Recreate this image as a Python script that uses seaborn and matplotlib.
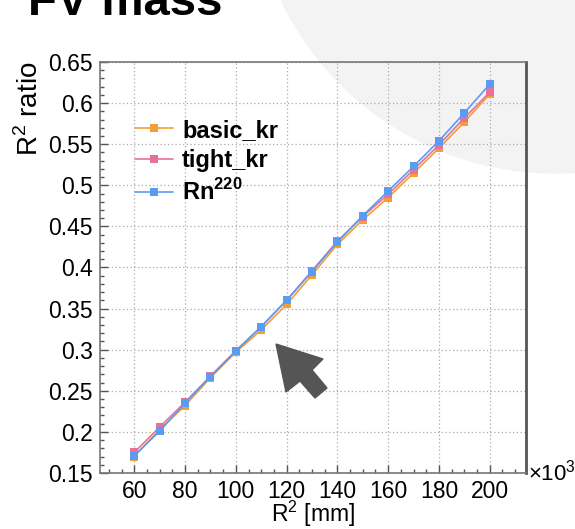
import matplotlib
matplotlib.use("Agg")
import matplotlib.pyplot as plt
import matplotlib.patches as mpatches
from matplotlib.ticker import MultipleLocator
import seaborn as sns
import pandas as pd

# data
r2_mm = [60, 70, 80, 90, 100, 110, 120, 130, 140, 150, 160, 170, 180, 190, 200]
basic_kr = [0.170, 0.203, 0.232, 0.266, 0.297, 0.324, 0.355, 0.391, 0.428, 0.458,
            0.485, 0.515, 0.545, 0.577, 0.611]
tight_kr = [0.175, 0.206, 0.236, 0.268, 0.299, 0.328, 0.360, 0.396, 0.432, 0.462,
            0.489, 0.519, 0.549, 0.582, 0.613]
rn220 = [0.171, 0.201, 0.235, 0.267, 0.298, 0.328, 0.360, 0.395, 0.431, 0.463,
         0.493, 0.523, 0.554, 0.588, 0.623]
series_names = ["basic_kr", "tight_kr", r"$\mathbf{Rn}^{\mathbf{220}}$"]
series_colors = ["#f0a035", "#e8719b", "#5b9cf2"]

df = pd.DataFrame({
    "x": r2_mm * 3,
    "y": basic_kr + tight_kr + rn220,
    "series": [series_names[0]] * 15 + [series_names[1]] * 15 + [series_names[2]] * 15,
})

sns.set_style("white")
plt.rcParams["font.family"] = ["Liberation Sans", "DejaVu Sans"]
plt.rcParams["mathtext.fontset"] = "custom"
plt.rcParams["mathtext.rm"] = "Liberation Sans"
plt.rcParams["mathtext.bf"] = "Liberation Sans:bold"
plt.rcParams["text.color"] = "black"
plt.rcParams["axes.labelcolor"] = "black"
plt.rcParams["xtick.color"] = "black"
plt.rcParams["ytick.color"] = "black"

W, H = 575, 529
fig = plt.figure(figsize=(W / 100, H / 100), dpi=100, facecolor="white")

def px(x, y):
    return (x / W, 1 - y / H)

# background decoration (slide)
fig.patches.append(mpatches.Ellipse(px(555, -130), 606 / W, 606 / H,
                                    transform=fig.transFigure, color="#f3f3f3", zorder=-5))

ax = fig.add_axes([100 / W, 1 - 473 / H, 426 / W, 411 / H])
ax.set_zorder(1)
ax.set_facecolor("none")

sns.lineplot(data=df, x="x", y="y", hue="series", palette=series_colors,
             marker="s", markersize=6, markeredgewidth=0, linewidth=1.2,
             ax=ax, legend=True)

ax.set_xlim(46.5, 214.3)
ax.set_ylim(0.15, 0.65)
ax.xaxis.set_minor_locator(MultipleLocator(5))
ax.yaxis.set_minor_locator(MultipleLocator(0.01))
ax.set_yticks([0.15, 0.2, 0.25, 0.3, 0.35, 0.4, 0.45, 0.5, 0.55, 0.6, 0.65])
ax.set_yticklabels(["0.15", "0.2", "0.25", "0.3", "0.35", "0.4", "0.45",
                    "0.5", "0.55", "0.6", "0.65"])
ax.set_xticks([60, 80, 100, 120, 140, 160, 180, 200])
ax.tick_params(which="major", direction="in", length=6, width=1, color="#555555",
               labelsize=16.5, pad=5, top=False, right=False)
ax.tick_params(which="minor", direction="in", length=3, width=1, color="#555555",
               top=False, right=False)
ax.tick_params(axis="y", which="both", left=True)
ax.tick_params(axis="x", which="both", bottom=True)
ax.grid(True, which="major", linestyle=(0, (1, 2)), color="#aaaaaa", linewidth=0.9)

for side in ["left", "bottom", "top"]:
    ax.spines[side].set_color("#777777")
    ax.spines[side].set_linewidth(1.2)
ax.spines["right"].set_color("#555555")
ax.spines["right"].set_linewidth(2)

ax.set_xlabel(r"R$^2$ [mm]", fontsize=16.5, labelpad=-3)
ax.set_ylabel(r"R$^2$ ratio", fontsize=20, loc="top", labelpad=3)
ax.text(1.005, 0.0, r"×10$^3$", transform=ax.transAxes, fontsize=16,
        ha="left", va="center")

leg = ax.legend(loc="upper left", bbox_to_anchor=(0.06, 0.885), frameon=False,
                prop={"weight": "bold", "size": 17}, handlelength=1.6,
                handletextpad=0.4, labelspacing=0.3, borderaxespad=0)

# title (cut at the top of the slide)
fig.text(*px(28, 15), "FV mass", fontsize=34, fontweight="bold",
         ha="left", va="baseline")

# pointer arrow
arrow_px = [(276, 344), (323, 359), (312, 370), (327, 388), (315, 398),
            (300, 381), (286, 392)]
fig.patches.append(mpatches.Polygon([px(x, y) for x, y in arrow_px], closed=True,
                                    transform=fig.transFigure, color="#555555",
                                    zorder=5))

fig.savefig("out.png", dpi=100)
